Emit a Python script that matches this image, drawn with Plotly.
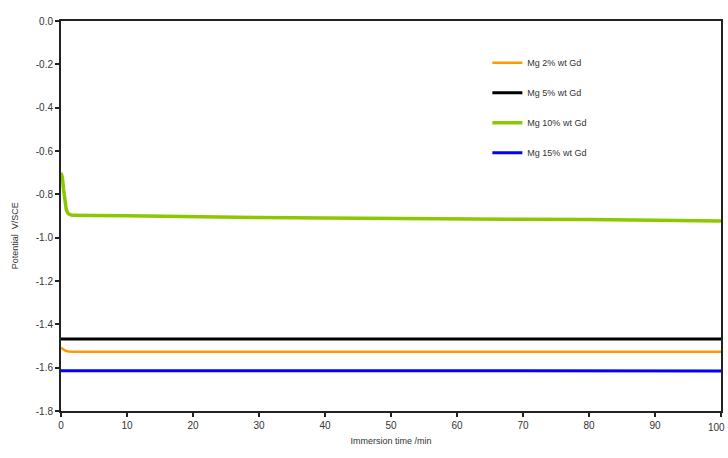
import plotly.graph_objects as go

# Data
t_green = [0, 0.2, 0.4, 0.6, 0.8, 1.0, 1.3, 1.7, 2.5, 5, 10, 20, 30, 40, 50, 60, 70, 80, 90, 100]
v_green = [-0.70, -0.72, -0.78, -0.84, -0.87, -0.885, -0.893, -0.897, -0.898, -0.898, -0.899,
           -0.904, -0.907, -0.909, -0.912, -0.914, -0.915, -0.916, -0.918, -0.923]

t_black = [0, 5, 10, 20, 30, 40, 50, 60, 70, 80, 90, 100]
v_black = [-1.468, -1.469, -1.468, -1.468, -1.468, -1.467, -1.468, -1.468, -1.468, -1.469, -1.468, -1.468]

t_orange = [0, 0.3, 0.7, 1.2, 2, 10, 20, 30, 40, 50, 60, 70, 80, 90, 100]
v_orange = [-1.508, -1.515, -1.522, -1.526, -1.527, -1.527, -1.527, -1.527, -1.527, -1.527,
            -1.527, -1.527, -1.527, -1.527, -1.527]

t_blue = [0, 10, 20, 30, 40, 50, 60, 70, 80, 90, 100]
v_blue = [-1.614, -1.614, -1.614, -1.614, -1.614, -1.615, -1.615, -1.615, -1.615, -1.615, -1.615]

names = ["Mg 2% wt Gd", "Mg 5% wt Gd", "Mg 10% wt Gd", "Mg 15% wt Gd"]
x_ticks = [0, 10, 20, 30, 40, 50, 60, 70, 80, 90, 100]
y_ticks = [0.0, -0.2, -0.4, -0.6, -0.8, -1.0, -1.2, -1.4, -1.6, -1.8]

fig = go.Figure()
fig.add_trace(go.Scatter(x=t_orange, y=v_orange, mode="lines", name=names[0],
                         line=dict(color="#FF9900", width=2.5), legendgroup="a"))
fig.add_trace(go.Scatter(x=t_black, y=v_black, mode="lines", name=names[1],
                         line=dict(color="#000000", width=3), legendgroup="b"))
fig.add_trace(go.Scatter(x=t_green, y=v_green, mode="lines", name=names[2],
                         line=dict(color="#8CC800", width=3.5), legendgroup="c"))
fig.add_trace(go.Scatter(x=t_blue, y=v_blue, mode="lines", name=names[3],
                         line=dict(color="#0000FF", width=3), legendgroup="d"))

axis_common = dict(showgrid=False, zeroline=False, showline=True, linecolor="#222",
                   linewidth=2, mirror=True, ticks="outside", ticklen=4, tickwidth=1.5,
                   tickcolor="#222", automargin=False,
                   tickfont=dict(family="Liberation Sans", size=10, color="#333"))

fig.update_layout(
    width=728, height=458,
    margin=dict(l=61, r=7, t=21, b=47),
    paper_bgcolor="white", plot_bgcolor="white",
    font=dict(family="Liberation Sans", size=9, color="#333"),
    xaxis=dict(range=[0, 100], tickvals=x_ticks, ticktext=[str(v) for v in x_ticks],
               title=dict(text="Immersion time /min", font=dict(size=9), standoff=8),
               **axis_common),
    yaxis=dict(range=[-1.8, 0.0], tickvals=y_ticks, ticktext=[f"{v:.1f}" for v in y_ticks],
               **axis_common),
    legend=dict(x=0.646, y=0.93, xanchor="left", yanchor="top", bgcolor="rgba(0,0,0,0)",
                font=dict(size=9, color="#333"), tracegroupgap=11),
    showlegend=True,
)
# last x tick label (plotly hides it since it would overflow the page edge)
fig.add_annotation(text=str(x_ticks[-1]), xref="paper", yref="paper", x=1, y=0,
                   xshift=6, yshift=-9, showarrow=False, xanchor="right", yanchor="top",
                   font=dict(family="Liberation Sans", size=10, color="#333"))
fig.add_annotation(text="Potential  V/SCE", xref="paper", yref="paper", x=-0.07, y=0.45,
                   textangle=-90, showarrow=False, font=dict(size=9, color="#333"),
                   xanchor="center", yanchor="middle")

fig.write_html("out.html")
